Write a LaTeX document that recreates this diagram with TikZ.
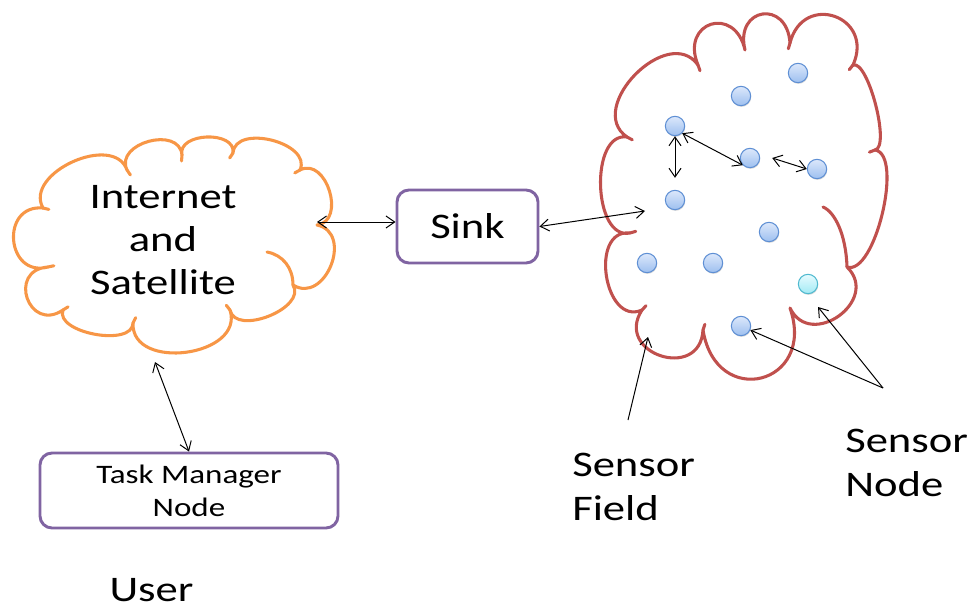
\documentclass[tikz,border=0pt]{standalone}
\usepackage{fontspec}
\setmainfont{Carlito}[FakeStretch=1.24]
\usetikzlibrary{calc,arrows.meta,shadows}

\definecolor{cloudorange}{HTML}{F79646}
\definecolor{cloudred}{HTML}{C0504D}
\definecolor{boxpurple}{HTML}{8064A2}
\definecolor{nodeedge}{HTML}{5E8FD4}
\definecolor{nodetop}{HTML}{DCE8FB}
\definecolor{nodebottom}{HTML}{9DBFEF}
\definecolor{cyanedge}{HTML}{4FB9CF}
\definecolor{cyantop}{HTML}{E6FCFF}
\definecolor{cyanbottom}{HTML}{A2E9F4}

\tikzset{
  % one rounded bulge of a cloud outline, from #1 to #2
  puff/.style n args={4}{insert path={.. controls ($(#1)!#3!#4:(#2)$) and ($(#2)!#3!-#4:(#1)$) .. (#2)}},
  % short inward stroke at a cusp #1, pointing towards #2
  tick/.style 2 args={insert path={(#1) -- ($(#1)!4.5pt!(#2)$)}},
  cloudline/.style={line width=2.3pt, line join=round, line cap=round},
  roundbox/.style={draw=boxpurple, line width=2.2pt, rounded corners=9pt, inner sep=0pt},
  bigtext/.style={font=\fontsize{27}{32.5}\selectfont, align=center, inner sep=0pt},
  plaintext/.style={font=\fontsize{27}{32.5}\selectfont, inner sep=0pt},
  labeltext/.style={font=\fontsize{27}{33}\selectfont, align=left, inner sep=0pt},
  link/.style={line width=0.75pt, {Straight Barb[length=6.5pt,width=9pt]}-{Straight Barb[length=6.5pt,width=9pt]}},
  pointer/.style={line width=0.75pt, -{Straight Barb[length=6.5pt,width=9pt]}},
  sensor/.style={circle, inner sep=0pt, minimum size=14.5pt, draw=nodeedge, line width=0.8pt,
    top color=nodetop, bottom color=nodebottom,
    drop shadow={opacity=0.3, shadow xshift=0.4pt, shadow yshift=-0.9pt}},
  sensorhi/.style={sensor, draw=cyanedge, top color=cyantop, bottom color=cyanbottom},
}

\begin{document}
\begin{tikzpicture}[x=0.75pt, y=0.75pt]
\path[use as bounding box] (0,0) rectangle (974,-613);

% ---------- Internet / satellite cloud ----------
\coordinate (oc) at (175,-240);
\coordinate (o1) at (43,-208);
\coordinate (o2) at (127,-170);
\coordinate (o3) at (182,-155);
\coordinate (o4) at (233,-153);
\coordinate (o5) at (300,-170);
\coordinate (o6) at (317,-225);
\coordinate (o7) at (293,-285);
\coordinate (o8) at (230,-310);
\coordinate (o9) at (133,-323);
\coordinate (o10) at (63,-310);
\coordinate (o11) at (48,-267);
\draw[cloudline, draw=cloudorange] (o1)
  [puff={o1}{o2}{30pt}{95}]
  [puff={o2}{o3}{22.3pt}{100}]
  [puff={o3}{o4}{17.3pt}{100}]
  [puff={o4}{o5}{22.3pt}{100}]
  [puff={o5}{o6}{22.3pt}{100}]
  [puff={o6}{o7}{28.4pt}{100}]
  [puff={o7}{o8}{20.3pt}{100}]
  [puff={o8}{o9}{36.6pt}{100}]
  [puff={o9}{o10}{18.3pt}{100}]
  [puff={o10}{o11}{31pt}{105}]
  [puff={o11}{o1}{32.5pt}{100}];
\draw[cloudline, draw=cloudorange] (267,-252) .. controls (283,-255) and (293,-268) .. (o7);
\draw[cloudline, draw=cloudorange]
  [tick={o1}{oc}] [tick={o2}{oc}] [tick={o3}{oc}] [tick={o4}{oc}] [tick={o5}{oc}]
  [tick={o8}{oc}] [tick={o9}{oc}] [tick={o10}{oc}] [tick={o11}{oc}];

\node[bigtext] (inet) at (163,-240) {Internet\\and\\Satellite};

% ---------- Sensor field cloud ----------
\coordinate (fc) at (745,-200);
\coordinate (fA) at (627,-137);
\coordinate (fB) at (698,-65);
\coordinate (fC) at (745,-50);
\coordinate (fD) at (790,-43);
\coordinate (fE) at (853,-65);
\coordinate (fF) at (875,-150);
\coordinate (fG) at (847,-267);
\coordinate (fH) at (790,-308);
\coordinate (fI) at (703,-330);
\coordinate (fJ) at (642,-310);
\coordinate (fK) at (630,-233);
\draw[cloudline, draw=cloudred] (fA)
  [puff={fA}{fB}{38.6pt}{100}]
  [puff={fB}{fC}{35pt}{95}]
  [puff={fC}{fD}{33pt}{95}]
  [puff={fD}{fE}{40pt}{95}]
  [puff={fE}{fF}{12pt}{95}]
  [puff={fF}{fG}{22pt}{95}]
  [puff={fG}{fH}{35.5pt}{100}]
  [puff={fH}{fI}{61pt}{95}]
  [puff={fI}{fJ}{39pt}{105}]
  [puff={fJ}{fK}{31pt}{105}]
  [puff={fK}{fA}{28.4pt}{100}];
\draw[cloudline, draw=cloudred] (823,-207) .. controls (835,-212) and (846,-235) .. (fG);
\draw[cloudline, draw=cloudred]
  [tick={fA}{fc}] [tick={fB}{fc}] [tick={fD}{fc}] [tick={fE}{fc}] [tick={fF}{fc}]
  [tick={fI}{fc}] [tick={fJ}{fc}] [tick={fK}{fc}];

% ---------- boxes ----------
\node[roundbox, minimum width=105.75pt, minimum height=54.75pt,
      font=\fontsize{27}{32.5}\selectfont] (sink) at (467.5,-226.5) {Sink};
\node[roundbox, minimum width=223.5pt, minimum height=56.25pt, align=center,
      font=\fontsize{20}{24.75}\selectfont] (task) at (189,-490.5) {Task Manager\\Node};
\node[plaintext] (user) at (151.5,-590) {User};

% ---------- sensor nodes ----------
\node[sensor] (n1) at (798,-73) {};
\node[sensor] (n2) at (741,-96) {};
\node[sensor] (n3) at (675,-126) {};
\node[sensor] (n4) at (750,-158) {};
\node[sensor] (n5) at (817,-169) {};
\node[sensor] (n6) at (675,-200) {};
\node[sensor] (n7) at (769,-232) {};
\node[sensor] (n8) at (647,-263) {};
\node[sensor] (n9) at (713,-263) {};
\node[sensorhi] (n10) at (808,-284) {};
\node[sensor] (n11) at (741,-326) {};

% ---------- labels ----------
\node[labeltext, anchor=west] (fieldlbl) at (572,-487) {Sensor\\Field};
\node[labeltext, anchor=west] (nodelbl) at (845,-463) {Sensor\\Node};

% ---------- connectors ----------
\coordinate (inetR) at (317,-222);
\coordinate (inetB) at (155,-362);
\coordinate (fieldIn) at (645,-211);
\coordinate (fieldTail) at (628,-420);
\coordinate (fieldTip) at (648,-337);
\coordinate (nodeTail) at (883,-388);
\coordinate (nodeTip) at (818,-307);

\draw[link] (inetR) -- (inetR -| sink.west);
\draw[link] (sink.east) -- (fieldIn);
\draw[link] (inetB) -- (task.north);
\draw[link, shorten >=9pt] (n3) -- (n6);
\draw[link] (n3.south east) -- (n4.south west);
\draw[link] ($(n4.east)+(12,0)$) -- (n5.west);

\draw[pointer] (fieldTail) -- (fieldTip);
\draw[pointer] (nodeTail) -- (n11);
\draw[pointer] (nodeTail) -- (nodeTip);
\end{tikzpicture}
\end{document}
